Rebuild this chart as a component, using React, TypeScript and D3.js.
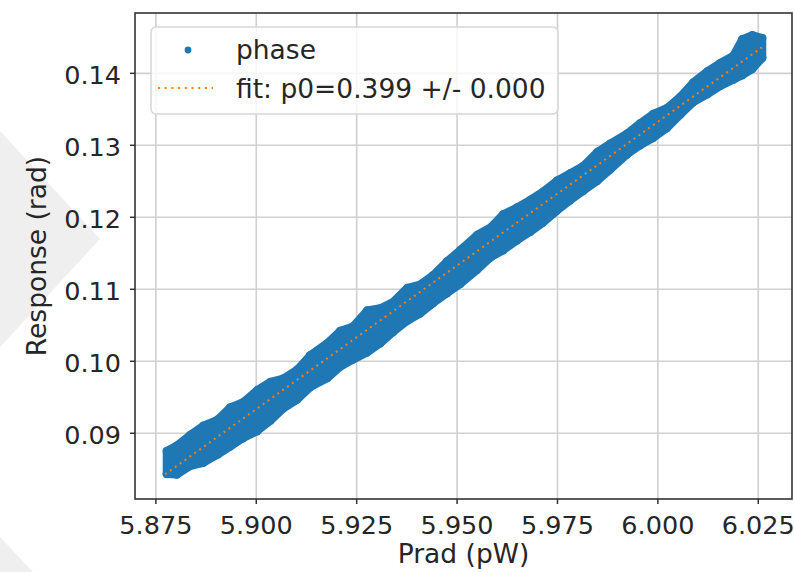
import React from 'react';
import * as d3 from 'd3';

// Scatter cloud "phase": sampled Prad positions with the upper / lower extremes of the cloud
const pradSamples = [5.8777, 5.8802, 5.8835, 5.8868, 5.8903, 5.8935, 5.8967, 5.9002, 5.9035, 5.9067, 5.9102, 5.9134, 5.9177, 5.9209, 5.9241, 5.9276, 5.9309, 5.9341, 5.9376, 5.9408, 5.944, 5.9475, 5.9508, 5.955, 5.9583, 5.9615, 5.965, 5.9682, 5.9714, 5.9749, 5.9782, 5.9814, 5.9849, 5.9881, 5.9923, 5.9956, 5.9988, 6.0023, 6.0056, 6.0088, 6.0123, 6.0155, 6.0188, 6.021, 6.0235, 6.026];
const respUpper = [0.08755, 0.08829, 0.08975, 0.09104, 0.09187, 0.09358, 0.09431, 0.09598, 0.09714, 0.0976, 0.09885, 0.10083, 0.10252, 0.10423, 0.10483, 0.10705, 0.10737, 0.10825, 0.1102, 0.11065, 0.11194, 0.11389, 0.11546, 0.11756, 0.11857, 0.12042, 0.1214, 0.12242, 0.12357, 0.1251, 0.12611, 0.12712, 0.12907, 0.13022, 0.13163, 0.13307, 0.13436, 0.13519, 0.13676, 0.13874, 0.14027, 0.14142, 0.14245, 0.14473, 0.1453, 0.14491];
const respLower = [0.08435, 0.08426, 0.08544, 0.0859, 0.08701, 0.08816, 0.08931, 0.09029, 0.09172, 0.09343, 0.09468, 0.09639, 0.09766, 0.09923, 0.10024, 0.10122, 0.10251, 0.10408, 0.10561, 0.10662, 0.10805, 0.10944, 0.11073, 0.1127, 0.11441, 0.11542, 0.11682, 0.11797, 0.11926, 0.12093, 0.12236, 0.12365, 0.12504, 0.12661, 0.12871, 0.13001, 0.13102, 0.13241, 0.13426, 0.13597, 0.13708, 0.13823, 0.13911, 0.13973, 0.14058, 0.14213];

// Fit line end points
const fitPrad = [5.8773, 6.0259];
const fitResp = [0.0843, 0.1436];

const xTicks = [5.875, 5.9, 5.925, 5.95, 5.975, 6.0, 6.025];
const yTicks = [0.09, 0.1, 0.11, 0.12, 0.13, 0.14];
const xDomain = [5.8698, 6.0334];
const yDomain = [0.08087, 0.14838];
const xLabel = 'Prad (pW)';
const yLabel = 'Response (rad)';
const legendLabels = ['phase', 'fit: p0=0.399 +/- 0.000'];

const BLUE = '#1f77b4';
const ORANGE = '#ff7f0e';
const TXT = '#262626';
const FONT = '"DejaVu Sans", sans-serif';

export default function App() {
  const W = 794, H = 572;
  const L = 135, R = 792, T = 13, B = 499;
  const x = d3.scaleLinear().domain(xDomain).range([L, R]);
  const y = d3.scaleLinear().domain(yDomain).range([B, T]);
  const fmtX = d3.format('.3f');
  const fmtY = d3.format('.2f');

  const idx = pradSamples.map((_, i) => i);
  const area = d3.area<number>()
    .x((i) => x(pradSamples[i]))
    .y0((i) => y(respLower[i]))
    .y1((i) => y(respUpper[i]));
  const fitLine = d3.line<number>()
    .x((i) => x(fitPrad[i]))
    .y((i) => y(fitResp[i]));

  return (
    <div style={{ position: 'fixed', left: 0, top: 0 }}>
      <svg width={W} height={H} style={{ display: 'block', background: '#fff' }}>
        {/* faint watermark shapes */}
        <polygon points="0,131 100,239 0,347" fill="#efefef" />
        <polygon points="0,537 33,572 0,572" fill="#efefef" />

        {/* grid */}
        <g stroke="#d0d0d0" strokeWidth={1.6}>
          {xTicks.map((t) => (
            <line key={'gx' + t} x1={x(t)} x2={x(t)} y1={T} y2={B} />
          ))}
          {yTicks.map((t) => (
            <line key={'gy' + t} x1={L} x2={R} y1={y(t)} y2={y(t)} />
          ))}
        </g>

        {/* scatter cloud */}
        <path d={area(idx) || ''} fill={BLUE} stroke={BLUE} strokeWidth={8} strokeLinejoin="round" />
        {idx.map((i) => (
          <g key={'p' + i} fill={BLUE}>
            <circle cx={x(pradSamples[i])} cy={y(respUpper[i])} r={4.2} />
            <circle cx={x(pradSamples[i])} cy={y(respLower[i])} r={4.2} />
          </g>
        ))}

        {/* fit line */}
        <path d={fitLine([0, 1]) || ''} fill="none" stroke={ORANGE} strokeWidth={2} strokeDasharray="2 4" />

        {/* frame */}
        <rect x={L} y={T} width={R - L} height={B - T} fill="none" stroke="#333" strokeWidth={1.6} />

        {/* x ticks */}
        {xTicks.map((t) => (
          <g key={'xt' + t}>
            <line x1={x(t)} x2={x(t)} y1={B} y2={B + 5} stroke="#333" strokeWidth={1.5} />
            <text x={x(t)} y={534} textAnchor="middle" fontFamily={FONT} fontSize={25.5} fill={TXT}>
              {fmtX(t)}
            </text>
          </g>
        ))}
        {/* y ticks */}
        {yTicks.map((t) => (
          <g key={'yt' + t}>
            <line x1={L - 5} x2={L} y1={y(t)} y2={y(t)} stroke="#333" strokeWidth={1.5} />
            <text x={121} y={y(t) + 11} textAnchor="end" fontFamily={FONT} fontSize={25.5} fill={TXT}>
              {fmtY(t)}
            </text>
          </g>
        ))}

        {/* axis labels */}
        <text x={(L + R) / 2} y={563} textAnchor="middle" fontFamily={FONT} fontSize={26.5} fill={TXT}>
          {xLabel}
        </text>
        <text
          transform={`translate(46,${(T + B) / 2}) rotate(-90)`}
          textAnchor="middle"
          fontFamily={FONT}
          fontSize={26.5}
          fill={TXT}
        >
          {yLabel}
        </text>

        {/* legend */}
        <g>
          <rect x={151} y={27} width={407} height={87} rx={5} fill="#fff" fillOpacity={0.8} stroke="#d6d6d6" strokeWidth={1.5} />
          <circle cx={188} cy={50} r={3.4} fill={BLUE} />
          <text x={236} y={59} fontFamily={FONT} fontSize={26.5} fill={TXT}>{legendLabels[0]}</text>
          <line x1={158} x2={213} y1={88} y2={88} stroke={ORANGE} strokeWidth={2} strokeDasharray="2 4.7" />
          <text x={236} y={98} fontFamily={FONT} fontSize={26.5} fill={TXT}>{legendLabels[1]}</text>
        </g>
      </svg>
    </div>
  );
}
